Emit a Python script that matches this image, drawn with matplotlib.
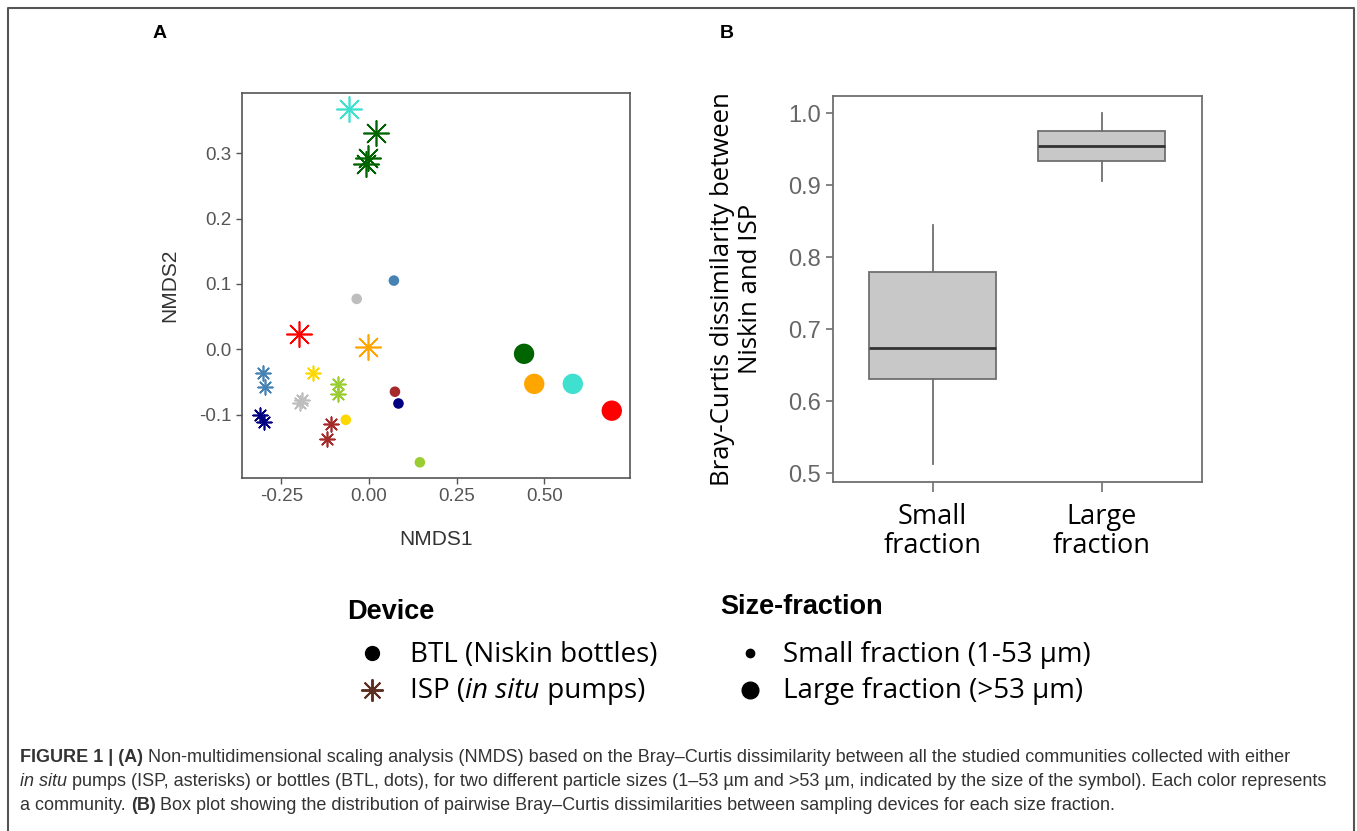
import matplotlib.pyplot as plt

# Panel A: NMDS coordinates
# in situ pumps (asterisks)
isp_x = [-0.057, 0.019, -0.004, -0.008, -0.200, -0.004,
         -0.303, -0.297, -0.311, -0.299, -0.159, -0.197, -0.190,
         -0.089, -0.089, -0.108, -0.119]
isp_y = [0.367, 0.331, 0.293, 0.284, 0.024, 0.003,
         -0.037, -0.058, -0.100, -0.111, -0.037, -0.082, -0.078,
         -0.053, -0.068, -0.114, -0.138]
isp_col = ['#40E0D0', '#006400', '#006400', '#006400', '#FF0000', '#FFA500',
           '#4682B4', '#4682B4', '#000080', '#000080', '#FFD700', '#BEBEBE', '#BEBEBE',
           '#9ACD32', '#9ACD32', '#A52A2A', '#A52A2A']
isp_frac = ['large'] * 6 + ['small'] * 11

# Niskin bottles (dots)
btl_x = [0.071, -0.035, 0.074, 0.084, -0.066, 0.145,
         0.442, 0.471, 0.581, 0.692]
btl_y = [0.105, 0.077, -0.065, -0.083, -0.108, -0.173,
         -0.007, -0.053, -0.053, -0.094]
btl_col = ['#4682B4', '#BEBEBE', '#A52A2A', '#000080', '#FFD700', '#9ACD32',
           '#006400', '#FFA500', '#40E0D0', '#FF0000']
btl_frac = ['small'] * 6 + ['large'] * 4

# Panel B: box plot summary
fractions = ['Small\nfraction', 'Large\nfraction']
whis_lo = [0.512, 0.906]
q1 = [0.631, 0.933]
med = [0.674, 0.955]
q3 = [0.780, 0.975]
whis_hi = [0.845, 1.000]

caption = [
    [("FIGURE 1 | (A)", "bold"), (" Non-multidimensional scaling analysis (NMDS) based on the Bray\u2013Curtis dissimilarity between all the studied communities collected with either", "normal")],
    [("in situ", "italic"), (" pumps (ISP, asterisks) or bottles (BTL, dots), for two different particle sizes (1\u201353 \u00b5m and >53 \u00b5m, indicated by the size of the symbol). Each color represents", "normal")],
    [("a community. ", "normal"), ("(B)", "bold"), (" Box plot showing the distribution of pairwise Bray\u2013Curtis dissimilarities between sampling devices for each size fraction.", "normal")],
]

W, H = 1357, 831
fig = plt.figure(figsize=(W / 100, H / 100), dpi=100)

# overlay in pixel coordinates for frame, labels, legend and caption
ov = fig.add_axes([0, 0, 1, 1])
ov.set_xlim(0, W)
ov.set_ylim(H, 0)
ov.axis('off')
ov.plot([8, 8, 1354, 1354], [H, 8, 8, H], color='#555555', lw=1.5, clip_on=False)

ov.text(160, 33, 'A', fontsize=14, fontweight='bold', family='Liberation Sans', ha='center', va='center')
ov.text(727, 33, 'B', fontsize=14, fontweight='bold', family='Liberation Sans', ha='center', va='center')

# ---- Panel A ----
axA = fig.add_axes([242 / W, 1 - 478 / H, (630 - 242) / W, (478 - 93) / H])
ast = (8, 2, 0)
sz_ast = {'small': 110, 'large': 330}
sz_dot = {'small': 58, 'large': 215}
for x, y, c, f in zip(isp_x, isp_y, isp_col, isp_frac):
    axA.scatter(x, y, s=sz_ast[f], marker=ast, color=c, linewidths=1.2, zorder=3)
for x, y, c, f in zip(btl_x, btl_y, btl_col, btl_frac):
    axA.scatter(x, y, s=sz_dot[f], marker='o', color=c, edgecolors='none', zorder=3)
axA.set_xlim(-0.362, 0.744)
axA.set_ylim(-0.197, 0.392)
axA.set_xticks([-0.25, 0.0, 0.25, 0.5])
axA.set_xticklabels(['-0.25', '0.00', '0.25', '0.50'])
axA.set_yticks([-0.1, 0.0, 0.1, 0.2, 0.3])
axA.set_yticklabels(['-0.1', '0.0', '0.1', '0.2', '0.3'])
for sp in axA.spines.values():
    sp.set_color('#555555')
    sp.set_linewidth(1.2)
axA.tick_params(colors='#555555', labelsize=13.5, length=4, width=1, labelcolor='#555555')
for lab in axA.get_xticklabels() + axA.get_yticklabels():
    lab.set_family('Liberation Sans')
axA.set_xlabel('NMDS1', fontsize=15, family='Liberation Sans', color='#333333', labelpad=18)
axA.set_ylabel('NMDS2', fontsize=15, family='Liberation Sans', color='#333333', labelpad=14)

# ---- Panel B ----
axB = fig.add_axes([832.7 / W, 1 - 481.7 / H, (1201.7 - 832.7) / W, (481.7 - 96) / H])
stats = []
for i in range(len(fractions)):
    stats.append({'whislo': whis_lo[i], 'q1': q1[i], 'med': med[i], 'q3': q3[i],
                  'whishi': whis_hi[i], 'fliers': []})
axB.bxp(stats, positions=[1, 2], widths=0.75, patch_artist=True, showcaps=False,
        boxprops=dict(facecolor='#c8c8c8', edgecolor='#707070', linewidth=1.3),
        medianprops=dict(color='#333333', linewidth=2),
        whiskerprops=dict(color='#707070', linewidth=1.3))
axB.set_xlim(0.41, 2.59)
axB.set_ylim(0.488, 1.024)
axB.set_yticks([0.5, 0.6, 0.7, 0.8, 0.9, 1.0])
axB.set_yticklabels(['0.5', '0.6', '0.7', '0.8', '0.9', '1.0'], family='Liberation Sans')
axB.set_xticks([1, 2])
axB.set_xticklabels(fractions, family='Open Sans', fontsize=19.5, linespacing=1.05)
for sp in axB.spines.values():
    sp.set_color('#707070')
    sp.set_linewidth(1.3)
axB.tick_params(axis='y', colors='#707070', labelsize=17, labelcolor='#666666', length=5, width=1.2)
axB.tick_params(axis='x', colors='#707070', labelcolor='black', length=7, width=1.2, pad=8)
axB.set_ylabel('Bray-Curtis dissimilarity between\nNiskin and ISP', family='Open Sans',
               fontsize=18.5, linespacing=1.15, labelpad=18)

# ---- Legends ----
ov.text(347, 612, 'Device', fontsize=19.5, fontweight='bold', family='Liberation Sans', va='center')
ov.plot([372], [653], marker='o', ms=10, color='black', ls='none')
ov.plot([372], [690], marker=ast, ms=16, mew=1.4, color='#5c3020', ls='none')
ov.text(410, 655, 'BTL (Niskin bottles)', fontsize=20, family='Open Sans', va='center')

ov.text(720, 607, 'Size-fraction', fontsize=19.5, fontweight='bold', family='Liberation Sans', va='center')
ov.plot([750], [653], marker='o', ms=6, color='black', ls='none')
ov.plot([750], [690], marker='o', ms=12, color='black', ls='none')
ov.text(783, 655, 'Small fraction (1-53 \u00b5m)', fontsize=20, family='Open Sans', va='center')
ov.text(783, 691, 'Large fraction (>53 \u00b5m)', fontsize=20, family='Open Sans', va='center')

r = fig.canvas.get_renderer()


def runs(x, y, parts, **kw):
    for s, st in parts:
        wt = 'bold' if st == 'bold' else 'normal'
        sl = 'italic' if st == 'italic' else 'normal'
        tt = ov.text(x, y, s, fontweight=wt, fontstyle=sl, va='center', **kw)
        x += tt.get_window_extent(renderer=r).width


runs(410, 691, [('ISP (', 'normal'), ('in situ', 'italic'), (' pumps)', 'normal')],
     fontsize=20, family='Open Sans')

cap_y = [758, 782, 806]
for yy, parts in zip(cap_y, caption):
    runs(20, yy, parts, fontsize=13, family=['Liberation Sans Narrow', 'Liberation Sans'],
         color='#333333')

fig.savefig('out.png', dpi=100)
